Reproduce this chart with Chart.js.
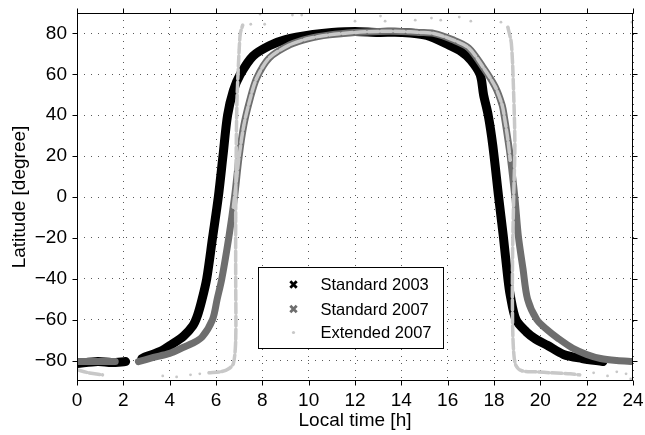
<!DOCTYPE html>
<html><head><meta charset="utf-8">
<script src="https://cdn.jsdelivr.net/npm/chart.js@4.4.1/dist/chart.umd.min.js"></script>
<style>html,body{margin:0;padding:0;background:#fff;}canvas{display:block;}</style>
</head><body>
<canvas id="c" width="645" height="435"></canvas>
<script>
// ---------- data (hours, latitude); null latitude = break in the band ----------
const seriesNames = ['Standard 2003', 'Standard 2007', 'Extended 2007'];
const xTicks = [0, 2, 4, 6, 8, 10, 12, 14, 16, 18, 20, 22, 24];
const yTicks = [-80, -60, -40, -20, 0, 20, 40, 60, 80];
const xTitle = 'Local time [h]';
const yTitle = 'Latitude [degree]';

const std2003Hour = [0, 0.9, 1.5, 2.1, 2.1,
  2.8, 3.0, 3.6, 4.1, 4.6, 5.0, 5.2, 5.4, 5.6, 5.85, 6.1, 6.3, 6.5, 6.75, 7.05, 7.6, 8.3, 9.0, 10.2, 11.0, 12.0, 13.0, 14.0,
  15.1, 16.1, 16.6, 17.0, 17.4, 17.55, 17.75, 17.95, 18.2, 18.4, 18.6, 18.7, 18.95, 19.4, 19.8, 20.3, 21.0, 21.8, 22.7];
const std2003Lat = [-81.5, -80.5, -81, -80.5, null,
  -79, -78, -75.5, -72, -68, -63, -58, -50, -40, -20, 0, 20, 40, 52, 60, 69, 74, 77, 79.5, 80.5, 81, 80.5, 80.5,
  79, 74, 71, 67, 60, 50, 40, 25, 0, -19, -40, -48, -60, -66, -69.5, -72.5, -77, -79, -80.5];

const std2007Hour = [0, 1.65, 1.65,
  2.65, 3.3, 4.0, 4.6, 5.0, 5.4, 5.85, 6.05, 6.25, 6.55, 6.8, 7.0, 7.2, 7.45, 7.75, 8.3, 9.2, 10.0, 10.9, 12.0, 13.0, 14.0,
  14.8, 15.4, 16.2, 16.9, 17.5, 18.05, 18.35, 18.45, 18.6, 18.7, 18.9, 19.05, 19.25, 19.45, 19.85, 20.3, 20.75, 21.4, 22.0,
  22.6, 23.3, 24];
const std2007Lat = [-80.5, -80.5, null,
  -80.5, -78.5, -76.5, -73.5, -71.5, -68.5, -60, -50, -40, -20, 0, 20, 35, 47, 58, 68, 74.5, 77.5, 79.3, 80.5, 81, 81,
  80.5, 80, 77, 73, 64, 54, 45, 39, 28, 20, 0, -19, -35, -50, -60, -65, -69, -74, -77,
  -79, -80, -80.5];

const ext2007Hour = [0, 0.5, 1.1, 1.1,
  3.7, 3.7, 4.3, 4.3, 4.9, 4.9, 5.3, 5.3,
  5.7, 6.2, 6.55, 6.75, 6.85, 6.85, 6.85, 6.87, 6.9, 6.95, 7.0, 7.05, 7.15, 7.15,
  7.5, 7.5, 7.9, 7.9, 8.1, 8.1, 9.3, 9.3, 9.7, 9.7, 12.0, 12.0, 13.1, 13.1, 13.3, 13.3, 14.6, 14.6, 15.3, 15.3,
  15.7, 15.7, 16.5, 16.5, 17.0, 17.0, 18.3, 18.3, 23.95, 23.95,
  18.6, 18.75, 18.85, 18.9, 18.85, 18.8, 18.8, 18.85, 18.95, 19.2, 19.8, 20.5, 21.3, 21.7, 21.7,
  22.3, 22.3, 22.9, 22.9, 23.3, 23.3, 23.7, 23.7, 23.9, 23.9,
  6.75, 6.9, 7.0, 7.2, 7.45, 7.75, 8.3, 9.2, 10.0, 10.9, 12.0, 13.0, 14.0, 14.8, 15.4, 16.2, 16.9, 17.5, 18.05, 18.35,
  18.45, 18.6, 18.7];
const ext2007Lat = [-84.5, -86, -87, null,
  -87.5, null, -88, null, -87, null, -86.5, null,
  -86, -85.5, -84, -81.5, -70, -40, -10, 20, 45, 60, 72, 80, 84, null,
  84.5, null, 89.5, null, 84.5, null, 89, null, 89, null, 86, null, 88.5, null, 86, null, 86.5, null, 87.5, null,
  86.5, null, 88, null, 86, null, 85.5, null, 85.5, null,
  83, 75, 50, 25, 0, -30, -60, -76, -82.5, -85, -85.5, -86, -86.5, -87, null,
  -86, null, -87.5, null, -85.5, null, -86.5, null, -89, null,
  -5, 10, 20, 35, 47, 58, 68, 74.5, 77.5, 79.3, 80.5, 81, 81, 80.5, 80, 77, 73, 64, 54, 45,
  39, 28, 18];

// ---------- chart ----------
const FONT = "'Liberation Sans', Arial, Helvetica, sans-serif";
const seriesColors = ['#000000', '#6e6e6e', '#c8c8c8'];
function toPoints(hours, lats) { return hours.map((h, i) => ({ x: h, y: lats[i] })); }

const frameLegendPlugin = {
  id: 'frameLegend',
  afterDraw(chart) {
    const { ctx, chartArea: a, scales } = chart;
    const sx = scales.x, sy = scales.y;
    const L = Math.round(a.left) + 0.5, R = Math.round(a.right) - 0.5;
    const T = Math.round(a.top) + 0.5, B = Math.round(a.bottom) - 0.5;
    ctx.save();
    ctx.strokeStyle = '#000'; ctx.lineWidth = 1;
    ctx.strokeRect(L, T, R - L, B - T);
    ctx.beginPath();
    const tl = 5;
    xTicks.forEach(v => {
      const px = Math.round(sx.getPixelForValue(v)) + 0.5;
      ctx.moveTo(px, B); ctx.lineTo(px, B + tl);
      ctx.moveTo(px, T); ctx.lineTo(px, T - tl);
    });
    yTicks.forEach(v => {
      const py = Math.round(sy.getPixelForValue(v)) + 0.5;
      ctx.moveTo(L, py); ctx.lineTo(L - tl, py);
      ctx.moveTo(R, py); ctx.lineTo(R + tl, py);
    });
    ctx.stroke();

    // legend box inside plot
    const bx0 = Math.round(sx.getPixelForValue(7.8)) + 0.5;
    const bx1 = Math.round(sx.getPixelForValue(15.8)) + 0.5;
    const by0 = Math.round(sy.getPixelForValue(-34.3)) + 0.5;
    const by1 = Math.round(sy.getPixelForValue(-73.7)) + 0.5;
    ctx.fillStyle = '#fff';
    ctx.fillRect(bx0, by0, bx1 - bx0, by1 - by0);
    ctx.strokeStyle = '#000'; ctx.lineWidth = 1;
    ctx.strokeRect(bx0, by0, bx1 - bx0, by1 - by0);
    const rowY = [by0 + 17, by0 + 41.5, by0 + 65];
    const mx = bx0 + 35, tx = bx0 + 62;
    ctx.font = '16.5px ' + FONT;
    ctx.textBaseline = 'middle'; ctx.textAlign = 'left';
    seriesNames.forEach((name, i) => {
      const y = rowY[i];
      if (i < 2) {
        ctx.strokeStyle = seriesColors[i]; ctx.lineWidth = 2.8; ctx.lineCap = 'butt';
        const s = 3.2;
        ctx.beginPath();
        ctx.moveTo(mx - s, y - s); ctx.lineTo(mx + s, y + s);
        ctx.moveTo(mx + s, y - s); ctx.lineTo(mx - s, y + s);
        ctx.stroke();
      } else {
        ctx.fillStyle = seriesColors[2];
        ctx.beginPath(); ctx.arc(mx, y, 1.6, 0, Math.PI * 2); ctx.fill();
      }
      ctx.fillStyle = '#000';
      ctx.fillText(name, tx, y + 1);
    });
    ctx.restore();
  }
};

const commonLine = { showLine: true, fill: false, tension: 0.3, borderCapStyle: 'round', borderJoinStyle: 'round', spanGaps: false };

new Chart(document.getElementById('c'), {
  type: 'scatter',
  data: {
    datasets: [
      Object.assign({}, commonLine, {
        label: seriesNames[0], data: toPoints(std2003Hour, std2003Lat),
        borderColor: seriesColors[0], backgroundColor: seriesColors[0], borderWidth: 9, pointRadius: 0, order: 3
      }),
      Object.assign({}, commonLine, {
        label: seriesNames[1], data: toPoints(std2007Hour, std2007Lat),
        borderColor: seriesColors[1], backgroundColor: seriesColors[1], borderWidth: 7, pointRadius: 0, order: 2
      }),
      Object.assign({}, commonLine, {
        label: seriesNames[2], data: toPoints(ext2007Hour, ext2007Lat),
        borderColor: seriesColors[2], backgroundColor: seriesColors[2], borderWidth: 3.5, borderDash: [10, 3],
        pointRadius: 1.4, pointBorderWidth: 0, order: 1
      })
    ]
  },
  options: {
    responsive: false, animation: false, devicePixelRatio: 1,
    layout: { padding: { top: 13, right: 12, left: 0, bottom: 0 } },
    plugins: { legend: { display: false }, tooltip: { enabled: false } },
    scales: {
      x: {
        type: 'linear', min: 0, max: 24,
        afterBuildTicks: s => { s.ticks = xTicks.map(v => ({ value: v })); },
        afterFit: s => { s.height = 54; s.paddingLeft = 0; s.paddingRight = 0; },
        grid: { color: 'rgba(0,0,0,0.65)', lineWidth: 1, drawTicks: false },
        border: { display: false, dash: [1, 6] },
        ticks: { color: '#000', padding: 8, font: { family: FONT, size: 19 }, maxRotation: 0, autoSkip: false,
          callback: v => String(v) },
        title: { display: true, text: xTitle, color: '#000', font: { family: FONT, size: 19 }, padding: { top: 0, bottom: 3 } }
      },
      y: {
        type: 'linear', min: -90, max: 90,
        afterBuildTicks: s => { s.ticks = yTicks.map(v => ({ value: v })); },
        afterFit: s => { s.width = 77; s.paddingTop = 0; s.paddingBottom = 0; },
        grid: { color: 'rgba(0,0,0,0.65)', lineWidth: 1, drawTicks: false },
        border: { display: false, dash: [1, 6] },
        ticks: { color: '#000', padding: 10, font: { family: FONT, size: 19 }, autoSkip: false,
          callback: v => (v < 0 ? '\u2212' + Math.abs(v) : String(v)) },
        title: { display: true, text: yTitle, color: '#000', font: { family: FONT, size: 19 }, padding: { top: 8, bottom: 0 } }
      }
    }
  },
  plugins: [frameLegendPlugin]
});
</script>
</body></html>
